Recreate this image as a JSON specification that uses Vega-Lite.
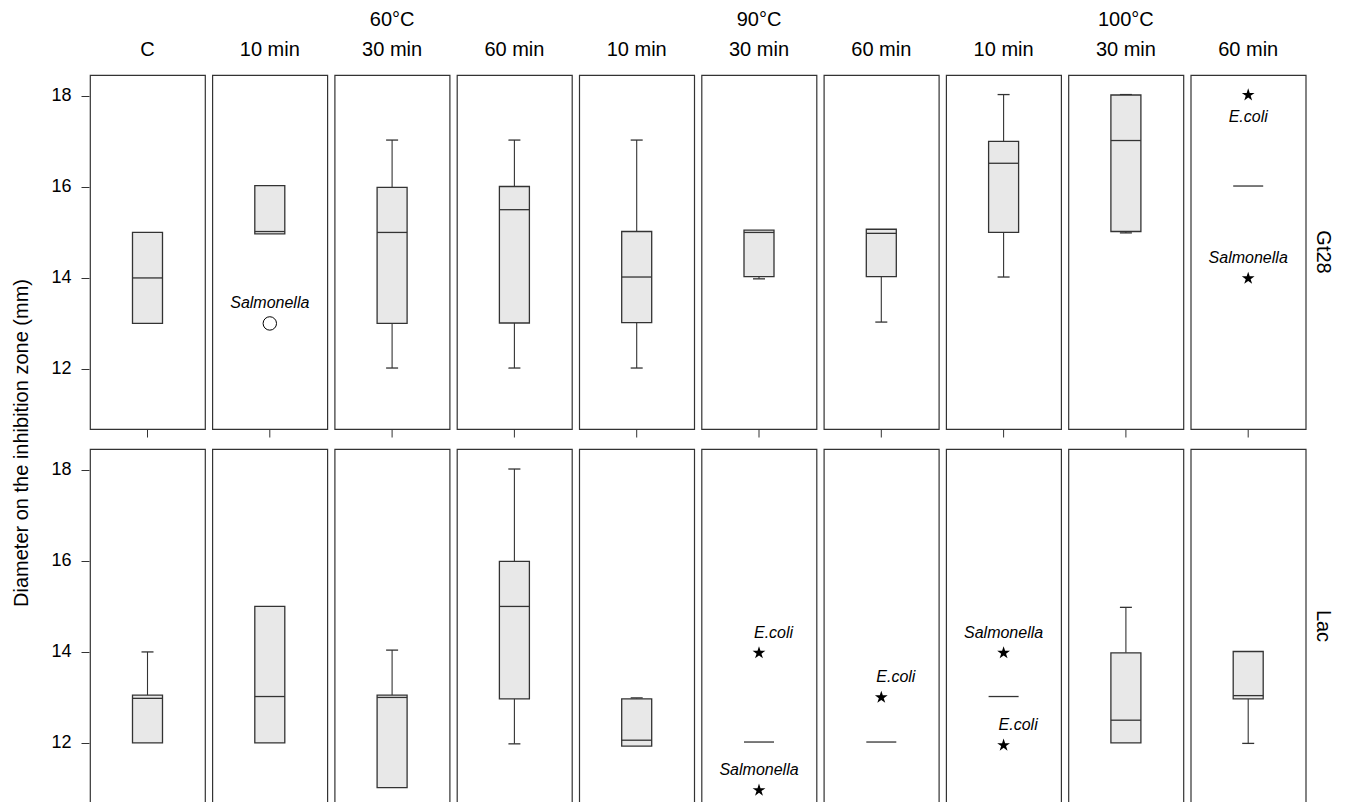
{
  "$schema": "https://vega.github.io/schema/vega-lite/v6.json",
  "background": "white",
  "padding": {"left": 11, "top": 10, "right": 5, "bottom": 0},
  "data": {
    "values": [
      {"kind": "box", "strain": "Gt28", "cond": "C", "q1": 13.0, "med": 14.0, "q3": 15.0},
      {"kind": "box", "strain": "Gt28", "cond": "60°C|10 min", "q1": 14.97, "med": 15.02, "q3": 16.03},
      {"kind": "box", "strain": "Gt28", "cond": "60°C|30 min", "lo": 12.02, "q1": 13.0, "med": 15.0, "q3": 15.99, "hi": 17.03},
      {"kind": "box", "strain": "Gt28", "cond": "60°C|60 min", "lo": 12.02, "q1": 13.01, "med": 15.5, "q3": 16.01, "hi": 17.03},
      {"kind": "box", "strain": "Gt28", "cond": "90°C|10 min", "lo": 12.02, "q1": 13.02, "med": 14.02, "q3": 15.02, "hi": 17.03},
      {"kind": "box", "strain": "Gt28", "cond": "90°C|30 min", "lo": 13.98, "q1": 14.03, "med": 15.0, "q3": 15.05},
      {"kind": "box", "strain": "Gt28", "cond": "90°C|60 min", "lo": 13.03, "q1": 14.03, "med": 14.98, "q3": 15.07},
      {"kind": "box", "strain": "Gt28", "cond": "100°C|10 min", "lo": 14.02, "q1": 15.0, "med": 16.52, "q3": 17.0, "hi": 18.03},
      {"kind": "box", "strain": "Gt28", "cond": "100°C|30 min", "lo": 14.99, "q1": 15.02, "med": 17.02, "q3": 18.02, "hi": 18.03},
      {"kind": "box", "strain": "Gt28", "cond": "100°C|60 min", "med": 16.02},
      {"kind": "box", "strain": "Lac", "cond": "C", "q1": 12.0, "med": 12.98, "q3": 13.05, "hi": 14.0},
      {"kind": "box", "strain": "Lac", "cond": "60°C|10 min", "q1": 12.0, "med": 13.02, "q3": 15.0},
      {"kind": "box", "strain": "Lac", "cond": "60°C|30 min", "q1": 11.02, "med": 13.0, "q3": 13.05, "hi": 14.04},
      {"kind": "box", "strain": "Lac", "cond": "60°C|60 min", "lo": 11.98, "q1": 12.97, "med": 15.0, "q3": 15.99, "hi": 18.02},
      {"kind": "box", "strain": "Lac", "cond": "90°C|10 min", "q1": 11.93, "med": 12.06, "q3": 12.97, "hi": 12.99},
      {"kind": "box", "strain": "Lac", "cond": "90°C|30 min", "med": 12.02},
      {"kind": "box", "strain": "Lac", "cond": "90°C|60 min", "med": 12.02},
      {"kind": "box", "strain": "Lac", "cond": "100°C|10 min", "med": 13.02},
      {"kind": "box", "strain": "Lac", "cond": "100°C|30 min", "q1": 12.0, "med": 12.5, "q3": 13.98, "hi": 14.98},
      {"kind": "box", "strain": "Lac", "cond": "100°C|60 min", "lo": 11.99, "q1": 12.97, "med": 13.04, "q3": 14.01},
      {"kind": "pt", "strain": "Gt28", "cond": "60°C|10 min", "shape": "circle", "v": 13.0, "label": "Salmonella", "pos": "above"},
      {"kind": "pt", "strain": "Gt28", "cond": "100°C|60 min", "shape": "star", "v": 18.02, "label": "E.coli", "pos": "below"},
      {"kind": "pt", "strain": "Gt28", "cond": "100°C|60 min", "shape": "star", "v": 13.99, "label": "Salmonella", "pos": "above"},
      {"kind": "pt", "strain": "Lac", "cond": "90°C|30 min", "shape": "star", "v": 13.98, "label": "E.coli", "pos": "above-right"},
      {"kind": "pt", "strain": "Lac", "cond": "90°C|30 min", "shape": "star", "v": 10.96, "label": "Salmonella", "pos": "above"},
      {"kind": "pt", "strain": "Lac", "cond": "90°C|60 min", "shape": "star", "v": 13.0, "label": "E.coli", "pos": "above-right"},
      {"kind": "pt", "strain": "Lac", "cond": "100°C|10 min", "shape": "star", "v": 13.98, "label": "Salmonella", "pos": "above"},
      {"kind": "pt", "strain": "Lac", "cond": "100°C|10 min", "shape": "star", "v": 11.95, "label": "E.coli", "pos": "above-right"}
    ]
  },
  "facet": {
    "row": {
      "field": "strain", "type": "nominal", "sort": ["Gt28", "Lac"],
      "header": {
        "title": "Diameter on the inhibition zone (mm)", "titleOrient": "left", "titleFontSize": 20, "titleFont": "Liberation Sans", "titleColor": "#000", "titleFontWeight": "normal", "titlePadding": 8,
        "labelOrient": "right", "labelAngle": 90, "labelFontSize": 20, "labelFont": "Liberation Sans", "labelColor": "#000", "labelPadding": 6
      }
    },
    "column": {
      "field": "cond", "type": "nominal",
      "sort": ["C", "60°C|10 min", "60°C|30 min", "60°C|60 min", "90°C|10 min", "90°C|30 min", "90°C|60 min", "100°C|10 min", "100°C|30 min", "100°C|60 min"],
      "header": {
        "title": null,
        "labelExpr": "datum.value == 'C' ? ['', 'C'] : (indexof(datum.value, '30 min') >= 0 ? split(datum.value, '|') : ['', split(datum.value, '|')[1]])",
        "labelFontSize": 20, "labelFont": "Liberation Sans", "labelColor": "#000", "labelLineHeight": 30, "labelPadding": 14
      }
    }
  },
  "spacing": {"row": 9, "column": 5.3},
  "resolve": {"axis": {"x": "independent"}},
  "spec": {
    "width": 115,
    "height": 354,
    "encoding": {
      "x": {
        "datum": "m", "type": "nominal",
        "scale": {"type": "band", "paddingInner": 0, "paddingOuter": 0},
        "axis": {"labels": false, "title": null, "domain": false, "ticks": true, "tickSize": 8, "tickColor": "#333", "grid": false}
      }
    },
    "layer": [
      {
        "transform": [{"filter": "datum.kind == 'box' && isValid(datum.lo)"}],
        "mark": {"type": "rule", "color": "#333", "strokeWidth": 1.1},
        "encoding": {
          "y": {"field": "lo", "type": "quantitative", "scale": {"domain": [10.68, 18.46], "nice": false, "zero": false}, "axis": {"values": [12, 14, 16, 18], "title": null}},
          "y2": {"field": "q1"}
        }
      },
      {
        "transform": [{"filter": "datum.kind == 'box' && isValid(datum.hi)"}],
        "mark": {"type": "rule", "color": "#333", "strokeWidth": 1.1},
        "encoding": {
          "y": {"field": "q3", "type": "quantitative", "axis": {"values": [12, 14, 16, 18], "title": null}},
          "y2": {"field": "hi"}
        }
      },
      {
        "transform": [{"filter": "datum.kind == 'box' && isValid(datum.lo)"}],
        "mark": {"type": "tick", "color": "#333", "size": 12, "thickness": 1.3, "opacity": 1},
        "encoding": {"y": {"field": "lo", "type": "quantitative", "axis": {"values": [12, 14, 16, 18], "title": null}}}
      },
      {
        "transform": [{"filter": "datum.kind == 'box' && isValid(datum.hi)"}],
        "mark": {"type": "tick", "color": "#333", "size": 12, "thickness": 1.3, "opacity": 1},
        "encoding": {"y": {"field": "hi", "type": "quantitative", "axis": {"values": [12, 14, 16, 18], "title": null}}}
      },
      {
        "transform": [{"filter": "datum.kind == 'box' && isValid(datum.q1)"}],
        "mark": {"type": "bar", "fill": "#e8e8e8", "stroke": "#333", "strokeWidth": 1.3, "size": 30},
        "encoding": {
          "y": {"field": "q1", "type": "quantitative", "axis": {"values": [12, 14, 16, 18], "title": null}},
          "y2": {"field": "q3"}
        }
      },
      {
        "transform": [{"filter": "datum.kind == 'box'"}],
        "mark": {"type": "tick", "color": "#333", "size": 30, "thickness": 1.3, "opacity": 1},
        "encoding": {"y": {"field": "med", "type": "quantitative", "axis": {"values": [12, 14, 16, 18], "title": null}}}
      },
      {
        "transform": [{"filter": "datum.kind == 'pt' && datum.shape == 'star'"}],
        "mark": {"type": "point", "shape": "M0,-1L0.2245,-0.309L0.951,-0.309L0.363,0.118L0.588,0.809L0,0.382L-0.588,0.809L-0.363,0.118L-0.951,-0.309L-0.2245,-0.309Z", "filled": true, "color": "#000", "opacity": 1, "size": 180},
        "encoding": {"y": {"field": "v", "type": "quantitative", "axis": {"values": [12, 14, 16, 18], "title": null}}}
      },
      {
        "transform": [{"filter": "datum.kind == 'pt' && datum.shape == 'circle'"}],
        "mark": {"type": "point", "shape": "circle", "filled": false, "fill": "white", "stroke": "#000", "strokeWidth": 1, "opacity": 1, "size": 180},
        "encoding": {"y": {"field": "v", "type": "quantitative", "axis": {"values": [12, 14, 16, 18], "title": null}}}
      },
      {
        "transform": [{"filter": "datum.kind == 'pt' && datum.pos == 'above'"}],
        "mark": {"type": "text", "dy": -20, "fontStyle": "italic", "fontSize": 16, "font": "Liberation Sans", "color": "#000"},
        "encoding": {"y": {"field": "v", "type": "quantitative", "axis": {"values": [12, 14, 16, 18], "title": null}}, "text": {"field": "label"}}
      },
      {
        "transform": [{"filter": "datum.kind == 'pt' && datum.pos == 'above-right'"}],
        "mark": {"type": "text", "dy": -20, "dx": -5, "align": "left", "fontStyle": "italic", "fontSize": 16, "font": "Liberation Sans", "color": "#000"},
        "encoding": {"y": {"field": "v", "type": "quantitative", "axis": {"values": [12, 14, 16, 18], "title": null}}, "text": {"field": "label"}}
      },
      {
        "transform": [{"filter": "datum.kind == 'pt' && datum.pos == 'below'"}],
        "mark": {"type": "text", "dy": 22, "fontStyle": "italic", "fontSize": 16, "font": "Liberation Sans", "color": "#000"},
        "encoding": {"y": {"field": "v", "type": "quantitative", "axis": {"values": [12, 14, 16, 18], "title": null}}, "text": {"field": "label"}}
      }
    ]
  },
  "config": {
    "view": {"stroke": "#333", "strokeWidth": 1.2},
    "axis": {"labelFont": "Liberation Sans", "titleFont": "Liberation Sans", "labelColor": "#000", "titleColor": "#000", "tickColor": "#333", "domain": false, "grid": false},
    "axisY": {"labelFontSize": 18, "tickSize": 8, "labelPadding": 10}
  }
}
